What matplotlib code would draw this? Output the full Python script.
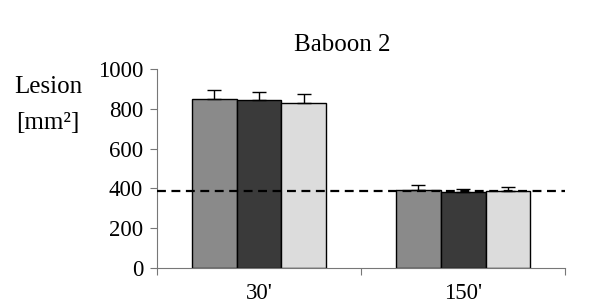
import numpy as np
import matplotlib.pyplot as plt

plt.rcParams['font.family'] = ['Liberation Serif', 'DejaVu Serif']

categories = ["30'", "150'"]
series = ['s1', 's2', 's3']
values = [[849, 392], [844, 380], [828, 387]]
errors = [[44, 25], [42, 17], [44, 22]]
colors = ['#8a8a8a', '#3a3a3a', '#dcdcdc']
baseline = 388

fig = plt.figure(figsize=(5.98, 3.04), dpi=100)
ax = fig.add_axes([0.2625, 0.118, 0.6825, 0.655])

x = np.arange(len(categories))
w = 0.22
for i in range(len(series)):
    ax.bar(x + (i - 1) * w, values[i], w, color=colors[i], edgecolor='black',
           linewidth=1.0, zorder=2)
    ax.errorbar(x + (i - 1) * w, values[i],
                yerr=[np.zeros(len(categories)), errors[i]],
                fmt='none', ecolor='black', elinewidth=1.0, capsize=5,
                capthick=1.0, zorder=3)

ax.axhline(baseline, color='black', linestyle=(0, (4, 2.5)), linewidth=1.6, zorder=4)

ax.set_xlim(-0.5, 1.5)
ax.set_ylim(0, 1000)
ax.set_yticks([0, 200, 400, 600, 800, 1000])
ax.set_xticks([-0.5, 0.5, 1.5])
ax.set_xticklabels([])
ax.set_xticks(x, minor=True)
ax.set_xticklabels(categories, minor=True)
ax.tick_params(axis='x', which='minor', length=0, pad=11, labelsize=16.5)
ax.tick_params(axis='x', which='major', length=5, color='#777777')
ax.tick_params(axis='y', length=5, color='#777777', labelsize=16.5, pad=5)

for s in ['top', 'right']:
    ax.spines[s].set_visible(False)
for s in ['left', 'bottom']:
    ax.spines[s].set_color('#777777')

fig.text(0.572, 0.852, 'Baboon 2', ha='center', va='center', fontsize=18)
fig.text(0.08, 0.715, 'Lesion', ha='center', va='center', fontsize=18)
fig.text(0.08, 0.595, '[mm²]', ha='center', va='center', fontsize=18)

fig.savefig('out.png', dpi=100)
